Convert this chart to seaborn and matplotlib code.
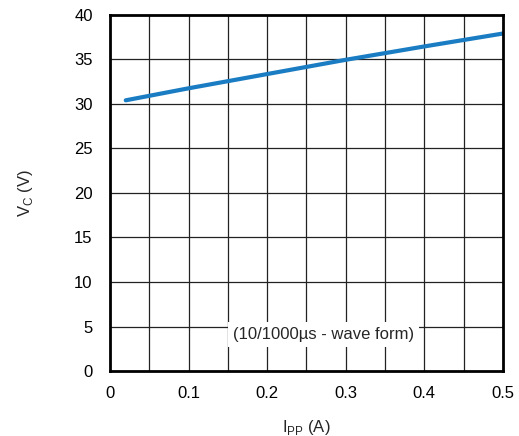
import matplotlib
matplotlib.use("Agg")
import matplotlib.pyplot as plt
import seaborn as sns
import pandas as pd
import numpy as np

ipp = [0.02, 0.1, 0.2, 0.3, 0.4, 0.5]
vc = [30.4, 31.75, 33.35, 34.95, 36.45, 37.9]
xticks = [0, 0.1, 0.2, 0.3, 0.4, 0.5]
xtick_labels = ["0", "0.1", "0.2", "0.3", "0.4", "0.5"]
yticks = [0, 5, 10, 15, 20, 25, 30, 35, 40]

sns.set_style("white")
plt.rcParams['font.family'] = ['Liberation Sans', 'DejaVu Sans']
plt.rcParams['mathtext.fontset'] = 'custom'
plt.rcParams['mathtext.rm'] = 'Liberation Sans'

df = pd.DataFrame({"ipp": ipp, "vc": vc})

fig = plt.figure(figsize=(5.19, 4.36), dpi=100)
ax = fig.add_axes([0.212, 0.149, 0.757, 0.817])

for gx in np.arange(0.05, 0.5, 0.05):
    ax.axvline(gx, color="#222222", lw=0.9, zorder=1)
for gy in range(5, 40, 5):
    ax.axhline(gy, color="#222222", lw=0.9, zorder=1)

sns.lineplot(data=df, x="ipp", y="vc", ax=ax, color="#1a7cc2", lw=3.0, zorder=3)

ax.set_xlim(0, 0.5)
ax.set_ylim(0, 40)
ax.set_xticks(xticks)
ax.set_xticklabels(xtick_labels)
ax.set_yticks(yticks)
ax.tick_params(axis="both", labelsize=12, length=0, colors="black")
ax.tick_params(axis="x", pad=11)
ax.tick_params(axis="y", pad=12.5)
for s in ax.spines.values():
    s.set_linewidth(2)
    s.set_color("black")
    s.set_zorder(5)

ax.set_xlabel(r"I$_\mathregular{PP}$ (A)", fontsize=12, labelpad=12)
ax.set_ylabel(r"V$_\mathregular{C}$ (V)", fontsize=12, labelpad=28)

ax.text(0.272, 4.05, "(10/1000µs - wave form)", fontsize=12, ha="center", va="center",
        zorder=4, bbox=dict(facecolor="white", edgecolor="none", pad=3.6))

fig.savefig("out.png", dpi=100)
